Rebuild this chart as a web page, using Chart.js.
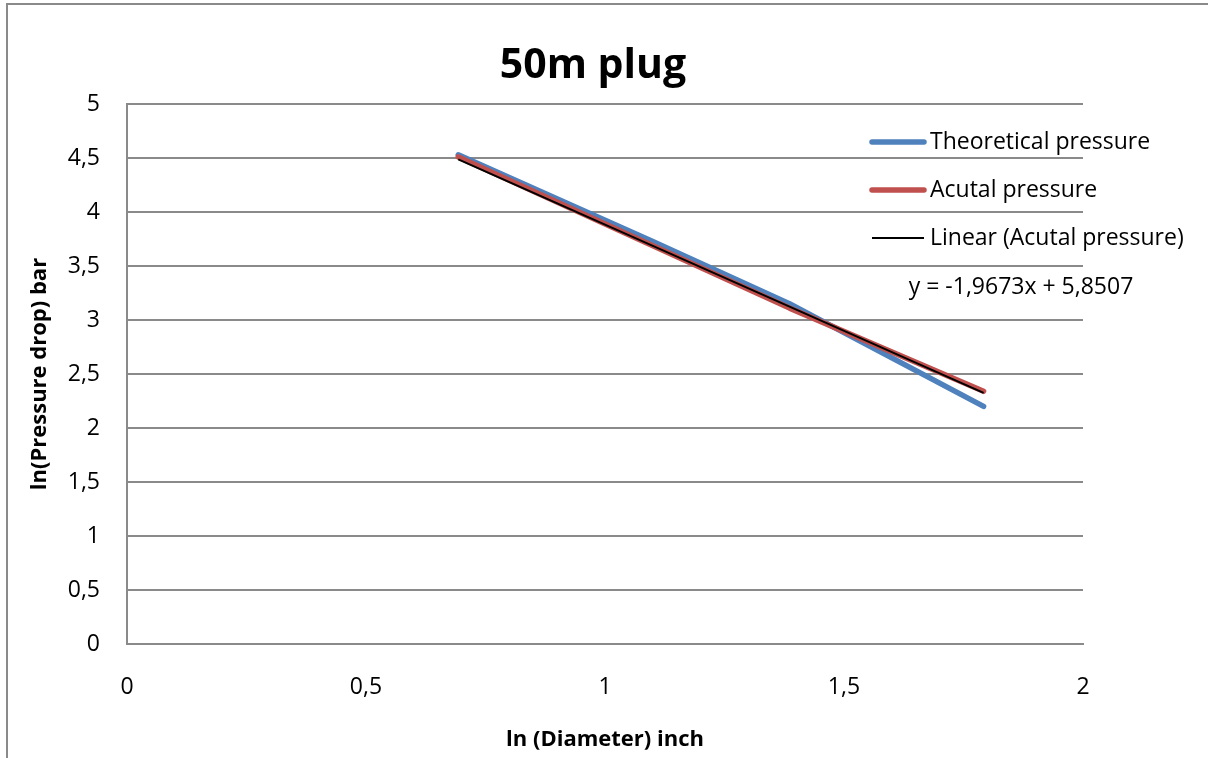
<!DOCTYPE html>
<html>
<head>
<meta charset="utf-8">
<script src="https://cdn.jsdelivr.net/npm/chart.js@4/dist/chart.umd.min.js"></script>
<style>
  html, body { margin: 0; padding: 0; background: #fff; }
  canvas { display: block; }
</style>
</head>
<body>
<canvas id="chart" width="1208" height="758"></canvas>
<script>
// ln(diameter) positions and the two measured series
const lnDiameter = [0.693, 1.099, 1.386, 1.792];
const theoretical = [4.53, 3.73, 3.15, 2.20];
const actual = [4.51, 3.69, 3.11, 2.34];
// linear trend shown on the chart: y = -1,9673x + 5,8507
const trendSlope = -1.9673;
const trendIntercept = 5.8507;
const trendX = [lnDiameter[0], lnDiameter[lnDiameter.length - 1]];

const chartTitle = "50m plug";
const xTitle = "ln (Diameter) inch";
const yTitle = "ln(Pressure drop) bar";
const seriesNames = ["Theoretical pressure", "Acutal pressure", "Linear (Acutal pressure)"];
const equationText = "y = -1,9673x + 5,8507";

const FONT = "'Open Sans', sans-serif";
const BLUE = "#4f81bd", RED = "#c0504d", GRID = "#8a8a8a";

const toPts = (xs, ys) => xs.map((x, i) => ({ x: x, y: ys[i] }));
const comma = (v) => String(v).replace(".", ",");

const decor = {
  id: "decor",
  afterDraw(chart) {
    const ctx = chart.ctx;
    ctx.save();
    // outer frame
    ctx.strokeStyle = GRID;
    ctx.lineWidth = 2;
    ctx.beginPath();
    ctx.moveTo(7, 758);
    ctx.lineTo(7, 4);
    ctx.lineTo(1208, 4);
    ctx.stroke();

    // title
    ctx.fillStyle = "#000";
    ctx.font = "bold 41px " + FONT;
    ctx.textAlign = "center";
    ctx.textBaseline = "middle";
    ctx.fillText(chartTitle, 593, 66);

    // legend
    const rows = [
      { y: 142, color: BLUE, w: 5.5 },
      { y: 190, color: RED, w: 5.5 },
      { y: 238, color: "#000", w: 2 }
    ];
    ctx.font = "23px " + FONT;
    ctx.textAlign = "left";
    rows.forEach((r, i) => {
      ctx.strokeStyle = r.color;
      ctx.lineWidth = r.w;
      ctx.lineCap = i < 2 ? "round" : "butt";
      ctx.beginPath();
      ctx.moveTo(872, r.y);
      ctx.lineTo(924, r.y);
      ctx.stroke();
      ctx.fillText(seriesNames[i], 930, r.y);
    });
    ctx.textAlign = "center";
    ctx.fillText(equationText, 1021, 287);
    ctx.restore();
  }
};

new Chart(document.getElementById("chart"), {
  type: "line",
  data: {
    datasets: [
      {
        label: seriesNames[2],
        data: toPts(trendX, trendX.map((x) => trendSlope * x + trendIntercept)),
        borderColor: "#000",
        borderWidth: 2,
        pointRadius: 0,
        order: 0
      },
      {
        label: seriesNames[1],
        data: toPts(lnDiameter, actual),
        borderColor: RED,
        borderWidth: 5.5,
        borderCapStyle: "round",
        borderJoinStyle: "round",
        pointRadius: 0,
        order: 1
      },
      {
        label: seriesNames[0],
        data: toPts(lnDiameter, theoretical),
        borderColor: BLUE,
        borderWidth: 5.5,
        borderCapStyle: "round",
        borderJoinStyle: "round",
        pointRadius: 0,
        order: 2
      }
    ]
  },
  options: {
    responsive: false,
    animation: false,
    layout: { padding: { top: 104, left: 6, right: 125, bottom: 0 } },
    plugins: {
      legend: { display: false },
      title: { display: false },
      tooltip: { enabled: false }
    },
    scales: {
      x: {
        type: "linear",
        min: 0,
        max: 2,
        afterFit: (s) => { s.height = 114; },
        ticks: {
          stepSize: 0.5,
          padding: 30,
          color: "#000",
          font: { family: FONT, size: 23 },
          callback: comma
        },
        grid: { color: "rgba(0,0,0,0)", drawTicks: false },
        border: { display: true, color: GRID, width: 2 },
        title: {
          display: true,
          text: xTitle,
          color: "#000",
          font: { family: FONT, size: 22, weight: "bold" },
          padding: { top: 0, bottom: 5 }
        }
      },
      y: {
        min: 0,
        max: 5,
        afterFit: (s) => { s.width = 121; },
        ticks: {
          stepSize: 0.5,
          padding: 27,
          color: "#000",
          font: { family: FONT, size: 23 },
          callback: comma
        },
        grid: { color: GRID, lineWidth: 2, drawTicks: false },
        border: { display: true, color: GRID, width: 2 },
        title: {
          display: true,
          text: yTitle,
          color: "#000",
          font: { family: FONT, size: 22, weight: "bold" },
          padding: { top: 21, bottom: 0 }
        }
      }
    }
  },
  plugins: [decor]
});
</script>
</body>
</html>
